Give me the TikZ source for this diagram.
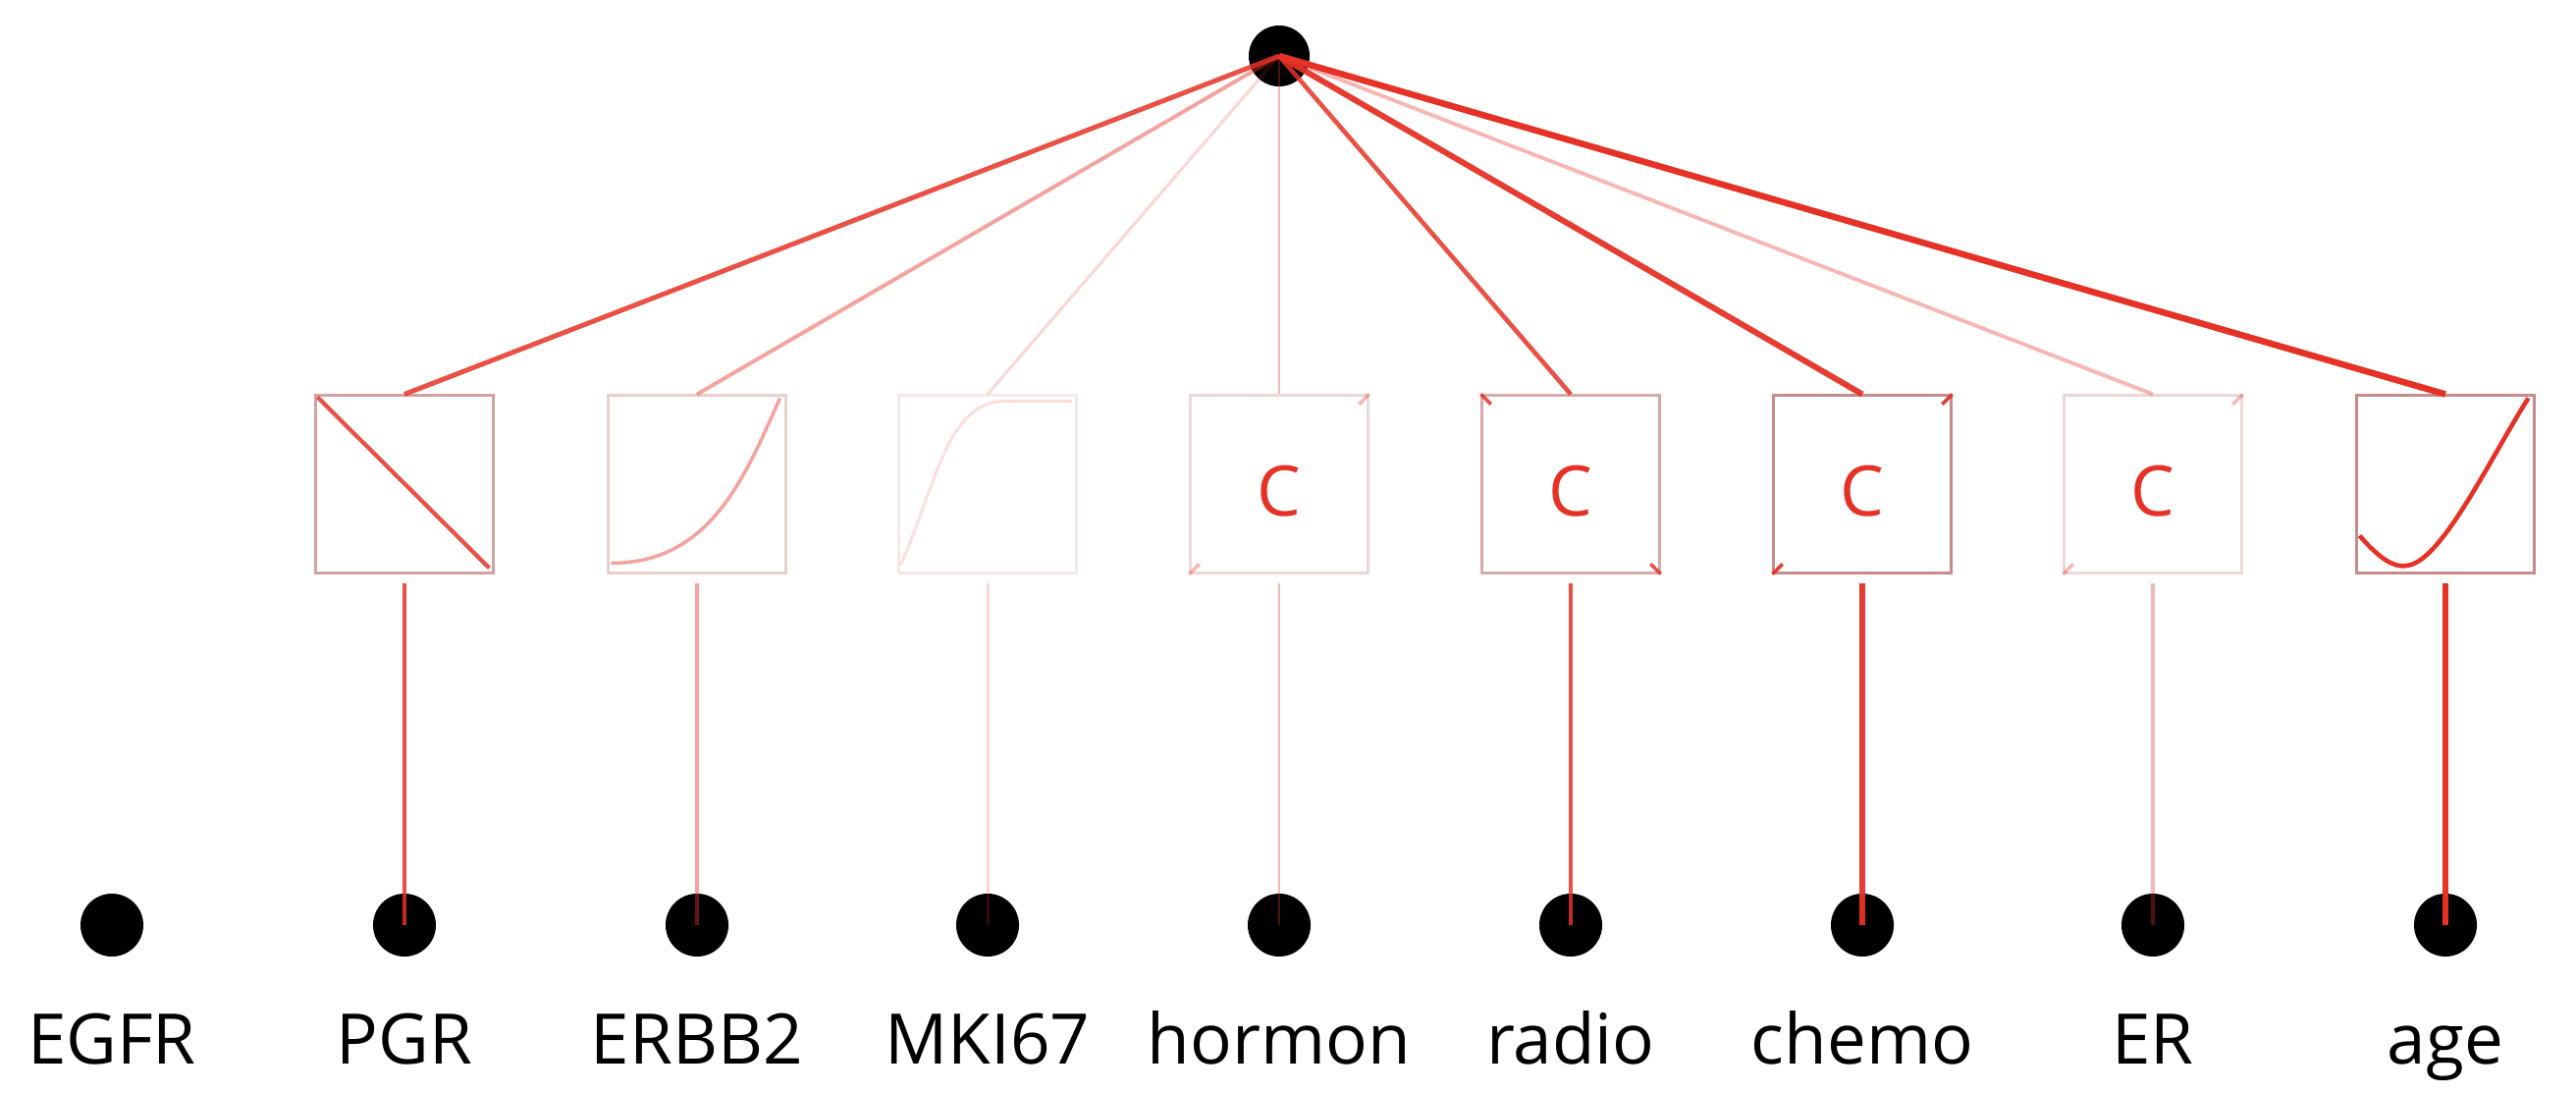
\documentclass[tikz,border=0pt]{standalone}
\usepackage{fontspec}
\setmainfont{Open Sans}
\usepackage{tikz}

\definecolor{linkred}{RGB}{230,50,38}
\definecolor{boxred}{RGB}{180,100,100}

\begin{document}
\begin{tikzpicture}[x=0.01cm,y=-0.01cm,
  dot/.style={circle,fill=black,inner sep=0pt,minimum size=0.64cm},
  fbox/.style={draw=boxred,line width=0.85pt,fill=white,inner sep=0pt,minimum size=1.8cm},
  lbl/.style={anchor=base,font=\fontsize{20.2pt}{24pt}\selectfont},
  ctext/.style={text=linkred,font=\fontsize{20.2pt}{24pt}\selectfont},
  link/.style={draw=linkred}]

\useasboundingbox (0,0) rectangle (2624,1112);

\node [dot,minimum size=0.62cm] (out) at (1303,57) {};

\foreach \x/\n in {114/EGFR,412/PGR,710/ERBB2,1006/MKI67,1303/hormon,1600/radio,1897/chemo,2193/ER,2491/age} {
  \node [dot] (v\n) at (\x,942) {};
  \node [lbl] (t\n) at (\x,1083) {\n};
}

\node [fbox,draw opacity=0.6] (fPGR) at (412,493) {};
\node [fbox,draw opacity=0.3] (fERBB2) at (710,493) {};
\node [fbox,draw opacity=0.15] (fMKI67) at (1006,493) {};
\node [fbox,draw opacity=0.25] (fhormon) at (1303,493) {};
\node [fbox,draw opacity=0.55] (fradio) at (1600,493) {};
\node [fbox,draw opacity=0.75] (fchemo) at (1897,493) {};
\node [fbox,draw opacity=0.25] (fER) at (2193,493) {};
\node [fbox,draw opacity=0.75] (fage) at (2491,493) {};

% shape curves
\begin{scope}[shift={(fPGR.north west)}]
\draw [link,line width=1.2pt,opacity=0.85] (3,3) -- (178,177);
\end{scope}
\begin{scope}[shift={(fERBB2.north west)}]
\draw [link,line width=1pt,opacity=0.45] (4,172) .. controls (105,172) and (140,85) .. (176,4);
\end{scope}
\begin{scope}[shift={(fMKI67.north west)}]
\draw [link,line width=0.9pt,opacity=0.15] (3,174) .. controls (40,90) and (50,7) .. (110,7) -- (178,7);
\end{scope}
\begin{scope}[shift={(fage.north west)}]
\draw [link,line width=1.3pt] (4,144) .. controls (25,168) and (40,178) .. (55,174)
  .. controls (90,166) and (140,60) .. (176,4);
\end{scope}

\draw [link,line width=1pt,opacity=0.35] (fhormon.south west) -- (fhormon.north east);
\fill [white,rounded corners=0.18cm] ([shift={(5,5)}]fhormon.north west) rectangle ([shift={(-5,-5)}]fhormon.south east);
\node [ctext] (chormon) at ([yshift=-0.07cm]fhormon.center) {C};

\draw [link,line width=1pt,opacity=0.85] (fradio.north west) -- (fradio.south east);
\fill [white,rounded corners=0.18cm] ([shift={(5,5)}]fradio.north west) rectangle ([shift={(-5,-5)}]fradio.south east);
\node [ctext] (cradio) at ([yshift=-0.07cm]fradio.center) {C};

\draw [link,line width=1pt,opacity=0.95] (fchemo.south west) -- (fchemo.north east);
\fill [white,rounded corners=0.18cm] ([shift={(5,5)}]fchemo.north west) rectangle ([shift={(-5,-5)}]fchemo.south east);
\node [ctext] (cchemo) at ([yshift=-0.07cm]fchemo.center) {C};

\draw [link,line width=1pt,opacity=0.35] (fER.south west) -- (fER.north east);
\fill [white,rounded corners=0.18cm] ([shift={(5,5)}]fER.north west) rectangle ([shift={(-5,-5)}]fER.south east);
\node [ctext] (cER) at ([yshift=-0.07cm]fER.center) {C};

% edges
\foreach \n/\o/\w in {PGR/0.85/1.4,ERBB2/0.45/1.1,MKI67/0.2/0.85,hormon/0.35/0.7,radio/0.85/1.3,chemo/0.95/1.7,ER/0.35/1.1,age/1/1.85} {
  \draw [link,line width=\w pt,opacity=\o] (out.center) -- (f\n.north);
  \draw [link,line width=\w pt,opacity=\o,shorten <=0.09cm] (f\n.south) -- (v\n.center);
}

\end{tikzpicture}
\end{document}
